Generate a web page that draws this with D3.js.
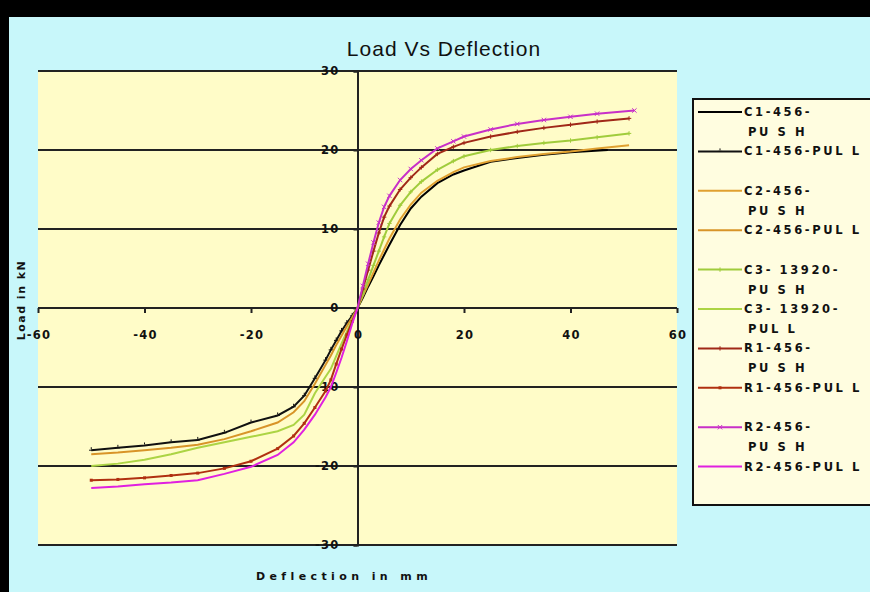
<!DOCTYPE html>
<html>
<head>
<meta charset="utf-8">
<script src="https://cdn.jsdelivr.net/npm/d3@7"></script>
<style>
    body { margin: 0; background: #000; }
    svg text { font-family: "Liberation Sans", Arial, sans-serif; }
    .tick-label, .axis-title, .legend-text { font-family: "DejaVu Sans", sans-serif !important; font-weight: bold; fill: #111; }
    .tick-label { font-size: 11.5px; letter-spacing: 1.2px; }
    .legend-text { font-size: 11.5px; letter-spacing: 2.6px; }
    .axis-title { font-size: 11px; letter-spacing: 4.4px; }
</style>
</head>
<body>
<div class="svg-container"></div>
<script>
// data
const seriesNames = ['C1-456-PUSH', 'C1-456-PULL', 'C2-456-PUSH', 'C2-456-PULL', 'C3-13920-PUSH',
                     'C3-13920-PULL', 'R1-456-PUSH', 'R1-456-PULL', 'R2-456-PUSH', 'R2-456-PULL'];
const legendLines = [['C1-456-', 'PU S H'], ['C1-456-PUL L'], ['C2-456-', 'PU S H'], ['C2-456-PUL L'],
                     ['C3- 13920-', 'PU S H'], ['C3- 13920-', 'PUL L'], ['R1-456-', 'PU S H'], ['R1-456-PUL L'],
                     ['R2-456-', 'PU S H'], ['R2-456-PUL L']];
const seriesColors = ['#000000', '#111111', '#e0a030', '#d89428', '#a0cc3c', '#acd444',
                      '#a02818', '#b03010', '#c830c8', '#e020e0'];
const seriesMarkers = [null, 'dash', null, null, 'plus', null, 'plus', 'square', 'x', null];

// push = positive deflection, pull = negative
const c1PushX = [0, 1, 2, 3, 4, 5, 6, 8, 10, 12, 15, 18, 20, 25, 30, 35, 40, 47];
const c1PushY = [0, 1.3, 2.7, 4.0, 5.4, 6.7, 8.0, 10.5, 12.6, 14.1, 15.8, 16.9, 17.4, 18.5, 19.0, 19.4, 19.7, 20.0];
const pullX = [0, -1, -2, -3, -4, -5, -6, -8, -10, -12, -15, -20, -25, -30, -35, -40, -45, -50];
const c1PullY = [0, -1.0, -1.9, -2.9, -4.1, -5.3, -6.6, -8.9, -11.1, -12.5, -13.6, -14.5, -15.8, -16.7, -17.0, -17.4, -17.7, -18.0];
const pushX = [0, 1, 2, 3, 4, 5, 6, 8, 10, 12, 15, 18, 20, 25, 30, 35, 40, 45, 51];
const c2PushY = [0, 1.5, 3.0, 4.5, 6.0, 7.4, 8.8, 11.2, 13.1, 14.6, 16.1, 17.2, 17.8, 18.6, 19.1, 19.5, 19.8, 20.2, 20.6];
const c2PullY = [0, -1.2, -2.3, -3.5, -4.7, -6.0, -7.2, -9.6, -11.8, -13.2, -14.5, -15.6, -16.6, -17.3, -17.7, -18.0, -18.3, -18.5];
const c3PushY = [0, 1.8, 3.6, 5.4, 7.2, 9.0, 10.7, 13.0, 14.7, 16.0, 17.5, 18.6, 19.2, 20.0, 20.5, 20.9, 21.2, 21.6, 22.1];
const c3PullY = [0, -1.5, -3.0, -4.5, -6.1, -7.7, -8.7, -10.8, -13.5, -14.8, -15.6, -16.3, -17.0, -17.7, -18.5, -19.2, -19.7, -20.0];
const r1PushY = [0, 2.4, 4.8, 7.2, 9.5, 11.5, 12.9, 15.0, 16.5, 17.8, 19.5, 20.4, 20.9, 21.7, 22.3, 22.8, 23.2, 23.6, 24.0];
const r1PullY = [0, -1.7, -3.4, -5.2, -7.1, -9.1, -10.5, -12.6, -14.6, -16.2, -17.8, -19.4, -20.3, -20.9, -21.2, -21.5, -21.7, -21.8];
const r2PushX = [0, 1, 2, 3, 4, 5, 6, 8, 10, 12, 15, 18, 20, 25, 30, 35, 40, 45, 52];
const r2PushY = [0, 2.8, 5.6, 8.3, 10.8, 12.8, 14.2, 16.2, 17.6, 18.7, 20.2, 21.1, 21.7, 22.6, 23.3, 23.8, 24.2, 24.6, 25.0];
const r2PullY = [0, -2.0, -4.2, -6.3, -8.2, -10.0, -11.3, -13.5, -15.4, -17.0, -18.6, -20.1, -21.0, -21.8, -22.1, -22.3, -22.6, -22.8];

const seriesX = [c1PushX, pullX, pushX, pullX, pushX, pullX, pushX, pullX, r2PushX, pullX];
const seriesY = [c1PushY, c1PullY, c2PushY, c2PullY, c3PushY, c3PullY, r1PushY, r1PullY, r2PushY, r2PullY];

const xTicks = [-60, -40, -20, 0, 20, 40, 60];
const yTicks = [-30, -20, -10, 0, 10, 20, 30];

(function () {
    var viewBox_width = 870,
        viewBox_height = 592;

    var svg = d3.select('.svg-container')
        .append('svg')
        .attr('width', viewBox_width)
        .attr('height', viewBox_height)
        .style('display', 'block');

    // black frame on top / left, cyan chart area
    svg.append('rect').attr('width', viewBox_width).attr('height', viewBox_height).attr('fill', '#000');
    svg.append('rect').attr('x', 9).attr('y', 17).attr('width', viewBox_width - 9).attr('height', viewBox_height - 17)
        .attr('fill', '#c8f7fa');

    var xScale = d3.scaleLinear().domain([-60, 60]).range([38, 677]),
        yScale = d3.scaleLinear().domain([-30, 30]).range([545, 71]);

    // plot area
    svg.append('rect')
        .attr('x', xScale(-60)).attr('y', yScale(30))
        .attr('width', xScale(60) - xScale(-60)).attr('height', yScale(-30) - yScale(30))
        .attr('fill', '#fffcc8');

    // title
    svg.append('text')
        .attr('x', 444).attr('y', 56)
        .attr('text-anchor', 'middle')
        .style('font-size', '21px')
        .style('letter-spacing', '1px')
        .style('fill', '#111')
        .text('Load Vs Deflection');

    // gridlines
    svg.selectAll('.grid')
        .data(yTicks).enter().append('line')
        .attr('class', 'grid')
        .attr('x1', xScale(-60)).attr('x2', xScale(60))
        .attr('y1', function (d) { return yScale(d); })
        .attr('y2', function (d) { return yScale(d); })
        .attr('stroke', '#222')
        .attr('stroke-width', 2);

    // x axis through y = 0, ticks down
    var xAxis = svg.append('g')
        .attr('transform', 'translate(0,' + yScale(0) + ')')
        .call(d3.axisBottom(xScale).tickValues(xTicks).tickSize(5).tickFormat(''));
    xAxis.select('.domain').remove();
    xAxis.selectAll('line').attr('stroke', '#222').attr('stroke-width', 2);

    // y axis through x = 0
    var yAxis = svg.append('g')
        .attr('transform', 'translate(' + xScale(0) + ',0)')
        .call(d3.axisLeft(yScale).tickValues(yTicks).tickSize(4).tickFormat(''));
    yAxis.select('.domain').attr('stroke', '#222').attr('stroke-width', 2);
    yAxis.selectAll('line').attr('stroke', '#222').attr('stroke-width', 2);

    // tick labels
    svg.selectAll('.x-label')
        .data(xTicks).enter().append('text')
        .attr('class', 'tick-label x-label')
        .attr('x', function (d) { return xScale(d) + 1; })
        .attr('y', yScale(0) + 31)
        .attr('text-anchor', 'middle')
        .text(function (d) { return d; });

    svg.selectAll('.y-label')
        .data(yTicks).enter().append('text')
        .attr('class', 'tick-label y-label')
        .attr('x', xScale(0) - 18)
        .attr('y', function (d) { return yScale(d) + 4; })
        .attr('text-anchor', 'end')
        .text(function (d) { return d; });

    // axis titles
    svg.append('text')
        .attr('class', 'axis-title')
        .attr('x', 344).attr('y', 580)
        .attr('text-anchor', 'middle')
        .text('Deflection in mm');

    svg.append('text')
        .attr('class', 'axis-title')
        .attr('transform', 'translate(25,300) rotate(-90)')
        .attr('text-anchor', 'middle')
        .style('letter-spacing', '1.5px')
        .text('Load in kN');

    // series
    var line = d3.line()
        .x(function (d) { return xScale(d[0]); })
        .y(function (d) { return yScale(d[1]); });

    seriesNames.forEach(function (name, i) {
        var pts = d3.zip(seriesX[i], seriesY[i]);
        svg.append('path')
            .datum(pts)
            .attr('fill', 'none')
            .attr('stroke', seriesColors[i])
            .attr('stroke-width', 2)
            .attr('d', line);
        drawMarkers(svg, pts.slice(1).map(function (p) { return [xScale(p[0]), yScale(p[1])]; }),
                    seriesMarkers[i], seriesColors[i]);
    });

    // legend
    var legend = svg.append('g').attr('class', 'legend');
    legend.append('rect')
        .attr('x', 693).attr('y', 99)
        .attr('width', 190).attr('height', 406)
        .attr('fill', '#fffde0')
        .attr('stroke', '#111')
        .attr('stroke-width', 2);

    seriesNames.forEach(function (name, i) {
        var ly = 112 + i * 39.4;
        legend.append('line')
            .attr('x1', 698).attr('x2', 742)
            .attr('y1', ly).attr('y2', ly)
            .attr('stroke', seriesColors[i])
            .attr('stroke-width', 2);
        drawMarkers(legend, [[720, ly]], seriesMarkers[i], seriesColors[i]);
        legendLines[i].forEach(function (txt, j) {
            legend.append('text')
                .attr('class', 'legend-text')
                .attr('x', j === 0 ? 744 : 748)
                .attr('y', ly + 4 + j * 20)
                .text(txt);
        });
    });
})();

function drawMarkers(parent, pts, type, color) {
    if (!type) return;
    pts.forEach(function (p) {
        if (type === 'square') {
            parent.append('rect').attr('x', p[0] - 1.5).attr('y', p[1] - 1.5)
                .attr('width', 3).attr('height', 3).attr('fill', color);
        } else {
            var s = 2.2, d;
            if (type === 'dash') d = `M${p[0] - s},${p[1]}h${2 * s}M${p[0]},${p[1] - 1}v-2`;
            else if (type === 'plus') d = `M${p[0] - s},${p[1]}h${2 * s}M${p[0]},${p[1] - s}v${2 * s}`;
            else d = `M${p[0] - s},${p[1] - s}l${2 * s},${2 * s}M${p[0] - s},${p[1] + s}l${2 * s},${-2 * s}`;
            parent.append('path').attr('d', d).attr('stroke', color).attr('stroke-width', 1).attr('fill', 'none');
        }
    });
}
</script>
</body>
</html>
